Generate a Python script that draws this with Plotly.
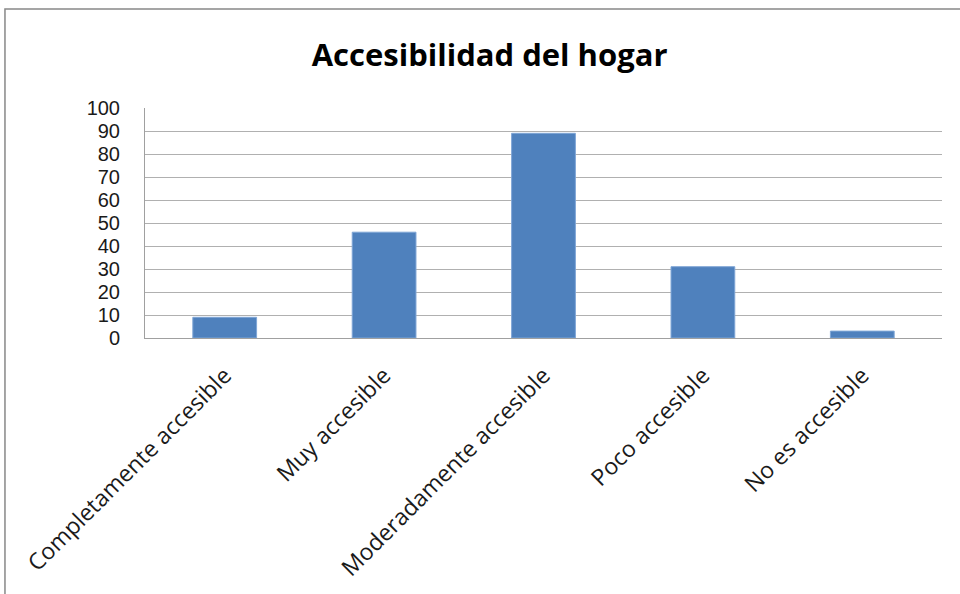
import plotly.graph_objects as go

categories = ["Completamente accesible", "Muy accesible", "Moderadamente accesible",
              "Poco accesible", "No es accesible"]
values = [9, 46, 89, 31, 3]
y_ticks = list(range(0, 101, 10))

fig = go.Figure()
fig.add_trace(go.Bar(x=categories, y=values, marker=dict(color="#4F81BD", line=dict(color="#7FA6D6", width=1)),
                     width=0.4))

fig.update_layout(
    width=960, height=594,
    margin=dict(l=145, r=18, t=108, b=256),
    paper_bgcolor="white", plot_bgcolor="white",
    showlegend=False,
    title=dict(text="<b>Accesibilidad del hogar</b>", x=0.51, xanchor="center", xref="container",
               y=0.907, yanchor="middle",
               font=dict(family="Open Sans", size=31, color="black")),
    font=dict(family="Open Sans", color="#1a1a1a"),
    bargap=0.6,
)
fig.update_yaxes(range=[0, 100], tickvals=y_ticks, showgrid=True, gridcolor="#B0B0B0", gridwidth=1,
                 showline=True, linecolor="#A0A0A0", linewidth=1, ticks="",
                 tickfont=dict(family="Liberation Sans", size=20, color="#1a1a1a"),
                 ticklabelstandoff=20, zeroline=False, fixedrange=True)
fig.update_xaxes(showline=True, linecolor="#A0A0A0", linewidth=1, tickangle=-45, ticks="",
                 ticklabelstandoff=14, tickfont=dict(size=23, color="#1a1a1a"))

fig.add_shape(type="rect", xref="paper", yref="paper", x0=-0.1757, x1=1.05, y0=-1.2, y1=1.4304,
              line=dict(color="#888888", width=1.5), fillcolor="rgba(0,0,0,0)", layer="below")

fig.write_html("out.html", config={"displayModeBar": False},
               post_script="document.body.style.margin='0';")
